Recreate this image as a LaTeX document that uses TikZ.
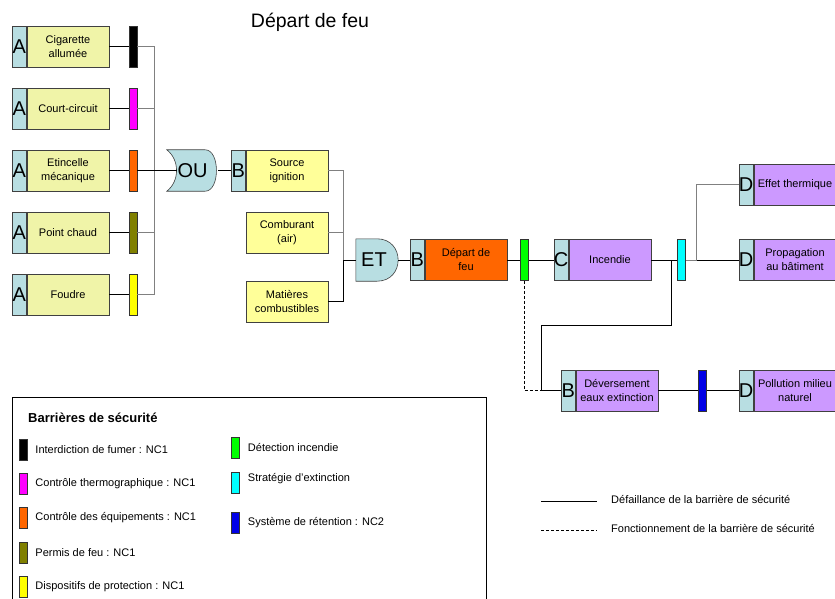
\documentclass[tikz,border=0pt]{standalone}
\usepackage{fontspec}
\setmainfont{Liberation Sans}
\usepackage{tikz}
\usetikzlibrary{positioning, calc, backgrounds}
\definecolor{cellblue}{HTML}{B8DEE2}
\definecolor{paleyellow}{HTML}{F0F4A8}
\definecolor{lightyellow}{HTML}{FFFF99}
\definecolor{fireorange}{HTML}{FF6600}
\definecolor{lilac}{HTML}{CC99FF}
\definecolor{olivebar}{HTML}{808000}
\definecolor{bluebar}{HTML}{0000E6}
\definecolor{magentabar}{HTML}{FF00FF}
\definecolor{cyanbar}{HTML}{00FFFF}
\definecolor{greenbar}{HTML}{00FF00}
\definecolor{yellowbar}{HTML}{FFFF00}
\definecolor{linegray}{HTML}{808080}

\tikzset{
  event/.style={draw=black!75, line width=0.6pt, minimum width=82pt, minimum height=41pt,
    inner sep=1pt, align=center, font=\fontsize{11}{14}\selectfont},
  cell/.style={draw=black!75, line width=0.6pt, fill=cellblue, minimum width=14pt,
    minimum height=41pt, inner sep=0pt, font=\fontsize{20}{20}\selectfont},
  barrier/.style={draw=black!80, line width=0.5pt, minimum width=8pt, minimum height=41pt, inner sep=0pt},
  swatch/.style={draw=black!80, line width=0.5pt, minimum width=8pt, minimum height=21pt, inner sep=0pt},
  legtext/.style={anchor=west, inner sep=0pt, font=\fontsize{11}{13}\selectfont},
  gatebox/.style={inner sep=0pt, font=\fontsize{20}{20}\selectfont},
  gate/.style={draw=black!75, line width=0.6pt, fill=cellblue},
  link/.style={line width=0.6pt},
  glink/.style={line width=0.6pt, linegray},
}

\begin{document}
\begin{tikzpicture}[x=1pt, y=-1pt]
  \useasboundingbox (0,0) rectangle (835,599);

  \node[font=\fontsize{19.5}{21}\selectfont] (title) at (310,22) {Départ de feu};

  % causes
  \node[event, fill=paleyellow] (cig) at (68,46.5) {Cigarette\\allumée};
  \node[event, fill=paleyellow] (cc) at (68,108.5) {Court-circuit};
  \node[event, fill=paleyellow] (eti) at (68,170.5) {Etincelle\\mécanique};
  \node[event, fill=paleyellow] (pc) at (68,232.5) {Point chaud};
  \node[event, fill=paleyellow] (fou) at (68,294.5) {Foudre};
  \node[cell, left=0pt of cig] (cigA) {A};
  \node[cell, left=0pt of cc] (ccA) {A};
  \node[cell, left=0pt of eti] (etiA) {A};
  \node[cell, left=0pt of pc] (pcA) {A};
  \node[cell, left=0pt of fou] (fouA) {A};

  \node[barrier, fill=black] (bar1) at (133,46.5) {};
  \node[barrier, fill=magentabar] (bar2) at (133,108.5) {};
  \node[barrier, fill=fireorange] (bar3) at (133,170.5) {};
  \node[barrier, fill=olivebar] (bar4) at (133,232.5) {};
  \node[barrier, fill=yellowbar] (bar5) at (133,294.5) {};

  \node[gatebox, minimum width=51pt, minimum height=41pt] (ou) at (192.5,170.5) {OU};
  \begin{scope}[on background layer]
    \draw[gate] (ou.north west) -- ($(ou.north east)+(-13,0)$)
      .. controls ($(ou.north east)+(2,0)$) and ($(ou.south east)+(2,0)$) .. ($(ou.south east)+(-13,0)$)
      -- (ou.south west) .. controls ($(ou.south west)+(13,-10)$) and ($(ou.north west)+(13,10)$) .. cycle;
  \end{scope}

  \draw[link] (cig) -- (bar1);
  \draw[link] (cc) -- (bar2);
  \draw[link] (eti) -- (bar3);
  \draw[link] (pc) -- (bar4);
  \draw[link] (fou) -- (bar5);
  \draw[glink] (bar1.east) -- ++(17,0) |- ($(ou.west)+(10,0)$);
  \draw[glink] (bar2.east) -- ++(17,0) |- ($(ou.west)+(10,0)$);
  \draw[glink] (bar4.east) -- ++(17,0) |- ($(ou.west)+(10,0)$);
  \draw[glink] (bar5.east) -- ++(17,0) |- ($(ou.west)+(10,0)$);
  \draw[link] (bar3.east) -- ($(ou.west)+(10,0)$);

  % conditions
  \node[event, fill=lightyellow] (src) at (287,170.5) {Source\\ignition};
  \node[cell, left=0pt of src] (srcB) {B};
  \node[event, fill=lightyellow] (comb) at (287,232.5) {Comburant\\(air)};
  \node[event, fill=lightyellow] (mat) at (287,301.5) {Matières\\combustibles};
  \draw[link] (ou) -- (srcB);

  \node[gatebox, minimum width=42pt, minimum height=42pt] (et) at (377,260) {};
  \node[gatebox] (ettxt) at (374,260) {ET};
  \begin{scope}[on background layer]
    \draw[gate] (et.north west) -- (et.north)
      .. controls ($(et.north east)+(7,0)$) and ($(et.south east)+(7,0)$) .. (et.south)
      -- (et.south west) -- cycle;
  \end{scope}
  \draw[glink] (src.east) -- ++(15,0) |- (et.west);
  \draw[glink] (comb.east) -- ++(15,0) |- (et.west);
  \draw[link] (mat.east) -- ++(15,0) |- (et.west);

  % consequences
  \node[event, fill=fireorange] (dep) at (466,260) {Départ de\\feu};
  \node[cell, left=0pt of dep] (depB) {B};
  \node[barrier, fill=greenbar] (g1) at (524.5,260) {};
  \node[event, fill=lilac] (inc) at (610,260) {Incendie};
  \node[cell, left=0pt of inc] (incC) {C};
  \node[barrier, fill=cyanbar] (cy) at (681.5,260) {};
  \node[event, fill=lilac] (eff) at (795,184.5) {Effet thermique};
  \node[cell, left=0pt of eff] (effD) {D};
  \node[event, fill=lilac] (prop) at (795,260) {Propagation\\au bâtiment};
  \node[cell, left=0pt of prop] (propD) {D};
  \node[event, fill=lilac] (dev) at (617,390.5) {Déversement\\eaux extinction};
  \node[cell, left=0pt of dev] (devB) {B};
  \node[barrier, fill=bluebar] (bl) at (702.5,390.5) {};
  \node[event, fill=lilac] (pol) at (795,390.5) {Pollution milieu\\naturel};
  \node[cell, left=0pt of pol] (polD) {D};

  \draw[link] (et) -- (depB);
  \draw[link] (dep) -- (g1);
  \draw[link] (g1) -- (incC);
  \draw[link] (inc) -- (cy);
  \draw[link] (cy) -- (propD);
  \draw[glink] (cy.east) -- ++(11,0) |- (effD.west);
  \draw[link, dash pattern=on 3pt off 2pt] (g1.south) |- (devB.west);
  \draw[link] (inc.east) -- ++(20,0) -- ++(0,65) -- ++(-130,0) |- (devB.west);
  \draw[link] (dev) -- (bl);
  \draw[link] (bl) -- (polD);

  % legend
  \draw[line width=0.8pt] (12,610) |- (486,397) -- (486,610);
  \node[anchor=west, inner sep=0pt, font=\bfseries\fontsize{13}{15}\selectfont] (legtitle) at (28,418) {Barrières de sécurité};
  \node[swatch, fill=black] (sw1) at (23,449.5) {};
  \node[legtext, right=8pt of sw1] {Interdiction de fumer : NC1};
  \node[swatch, fill=magentabar] (sw2) at (23,483.5) {};
  \node[legtext, right=8pt of sw2] {Contrôle thermographique : NC1};
  \node[swatch, fill=fireorange] (sw3) at (23,518) {};
  \node[legtext, right=8pt of sw3] {Contrôle des équipements : NC1};
  \node[swatch, fill=olivebar] (sw4) at (23,552.5) {};
  \node[legtext, right=8pt of sw4] {Permis de feu : NC1};
  \node[swatch, fill=yellowbar] (sw5) at (23,587) {};
  \node[legtext, right=8pt of sw5] {Dispositifs de protection : NC1};
  \node[swatch, fill=greenbar] (sw6) at (235.5,448) {};
  \node[legtext, right=8pt of sw6] {Détection incendie};
  \node[swatch, fill=cyanbar] (sw7) at (235.5,482.5) {};
  \node[legtext, right=8pt of sw7, yshift=4pt] {Stratégie d’extinction};
  \node[swatch, fill=bluebar] (sw8) at (235.5,522.5) {};
  \node[legtext, right=8pt of sw8] {Système de rétention : NC2};

  \coordinate (failline) at (541,501);
  \node[legtext] (failtxt) at (611,499) {Défaillance de la barrière de sécurité};
  \draw[link] (failline) -- ++(56,0);
  \coordinate (okline) at (541,530);
  \node[legtext] (oktxt) at (611,528) {Fonctionnement de la barrière de sécurité};
  \draw[link, dash pattern=on 3pt off 2pt] (okline) -- ++(56,0);
\end{tikzpicture}
\end{document}
